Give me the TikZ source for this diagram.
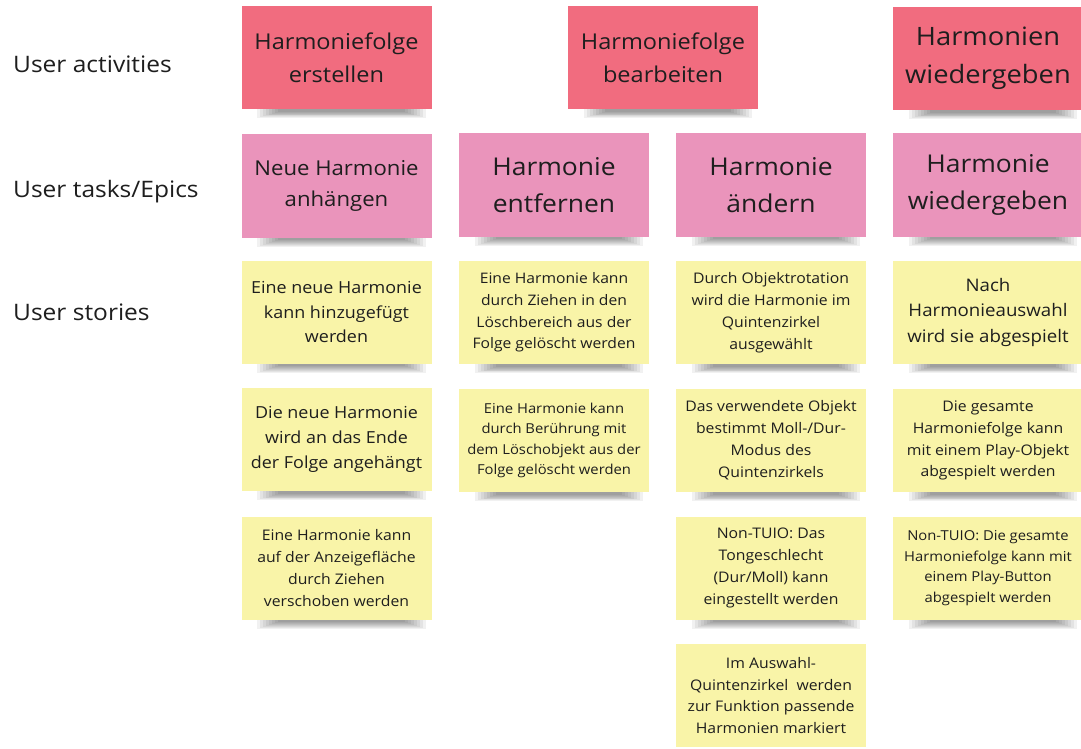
\documentclass[tikz,border=0pt]{standalone}
\usepackage{fontspec}
\setmainfont{Open Sans}[FakeStretch=1.08]
\definecolor{rednote}{HTML}{F16C7F}
\definecolor{pinknote}{HTML}{EA94BB}
\definecolor{yellownote}{HTML}{F9F4A8}
\definecolor{ink}{HTML}{1E1E1E}
\newcommand{\fs}[1]{\fontsize{#1}{\fpeval{1.5*#1}}\selectfont}
\newcommand{\stickyshadow}[1]{%
  \foreach \i in {0,...,7}{%
    \fill[black,opacity=0.055] ([xshift={16pt+3pt*\i}]#1.south west) rectangle ([xshift={-6pt-3pt*\i}, yshift={-9pt+0.9pt*\i}]#1.south east);
  }%
}
\tikzset{
  sticky/.style={rectangle, minimum width=190pt, minimum height=103pt, inner sep=2pt, align=center, text=ink},
  rednote/.style={sticky, fill=rednote},
  pinknote/.style={sticky, fill=pinknote},
  yellownote/.style={sticky, fill=yellownote},
  rowlabel/.style={anchor=base west, inner sep=0pt, text=ink, font=\fs{22.7}}
}
\begin{document}
\begin{tikzpicture}[x=1pt,y=-1pt]
\useasboundingbox (0,0) rectangle (1081,749);
\fill[white] (0,0) rectangle (1081,749);
\clip (0,0) rectangle (1081,749);

% row labels
\node[rowlabel] (la) at (13,73) {User activities};
\node[rowlabel] (lt) at (13,197) {User tasks/Epics};
\node[rowlabel] (ls) at (13,320) {User stories};

% activities
\node[rednote, font=\fs{21.8}] (a1) at (336.5,57.5) {Harmoniefolge\\erstellen};
\node[rednote, font=\fs{21.8}] (a2) at (663,57.5) {Harmoniefolge\\bearbeiten};
\node[rednote, font=\fs{25.3}] (a3) at (988,58.5) {Harmonien\\wiedergeben};

% tasks
\node[pinknote, font=\fs{20.5}] (t1) at (336.5,186) {Neue Harmonie\\anhängen};
\node[pinknote, font=\fs{24.5}] (t2) at (554,185) {Harmonie\\entfernen};
\node[pinknote, font=\fs{24.5}] (t3) at (771,185) {Harmonie\\ändern};
\node[pinknote, font=\fs{24.5}] (t4) at (988,185) {Harmonie\\wiedergeben};

% stories column 1
\node[yellownote, font=\fs{16.6}] (s11) at (336.5,312) {Eine neue Harmonie\\kann hinzugefügt\\werden};
\node[yellownote, font=\fs{16.6}] (s12) at (336.5,439.5) {Die neue Harmonie\\wird an das Ende\\der Folge angehängt};
\node[yellownote, font=\fs{14.6}] (s13) at (336.5,568) {Eine Harmonie kann\\auf der Anzeigefläche\\durch Ziehen\\verschoben werden};

% stories column 2
\node[yellownote, font=\fs{14.5}] (s21) at (554,312.5) {Eine Harmonie kann\\durch Ziehen in den\\Löschbereich aus der\\Folge gelöscht werden};
\node[yellownote, font=\fs{13.7}] (s22) at (554,440.5) {Eine Harmonie kann\\durch Berührung mit\\dem Löschobjekt aus der\\Folge gelöscht werden};

% stories column 3
\node[yellownote, font=\fs{14.6}] (s31) at (771,312.5) {Durch Objektrotation\\wird die Harmonie im\\Quintenzirkel\\ausgewählt};
\node[yellownote, font=\fs{14.6}] (s32) at (771,440.5) {Das verwendete Objekt\\bestimmt Moll-/Dur-\\Modus des\\Quintenzirkels};
\node[yellownote, font=\fs{14.6}] (s33) at (771,568) {Non-TUIO: Das\\Tongeschlecht\\(Dur/Moll) kann\\eingestellt werden};
\node[yellownote, font=\fs{14.6}] (s34) at (771,695.5) {Im Auswahl-\\Quintenzirkel\ \ werden\\zur Funktion passende\\Harmonien markiert};

% stories column 4
\node[yellownote, font=\fs{17.3}] (s41) at (988,312.5) {Nach\\Harmonieauswahl\\wird sie abgespielt};
\node[yellownote, font=\fs{14.6}] (s42) at (988,440.5) {Die gesamte\\Harmoniefolge kann\\mit einem Play-Objekt\\abgespielt werden};
\node[yellownote, font=\fs{13.7}] (s43) at (988,568) {Non-TUIO: Die gesamte\\Harmoniefolge kann mit\\einem Play-Button\\abgespielt werden};

% shadows
\stickyshadow{a1}\stickyshadow{a2}\stickyshadow{a3}
\stickyshadow{t1}\stickyshadow{t2}\stickyshadow{t3}\stickyshadow{t4}
\stickyshadow{s11}\stickyshadow{s12}\stickyshadow{s13}
\stickyshadow{s21}\stickyshadow{s22}
\stickyshadow{s31}\stickyshadow{s32}\stickyshadow{s33}
\stickyshadow{s41}\stickyshadow{s42}\stickyshadow{s43}
\end{tikzpicture}
\end{document}
